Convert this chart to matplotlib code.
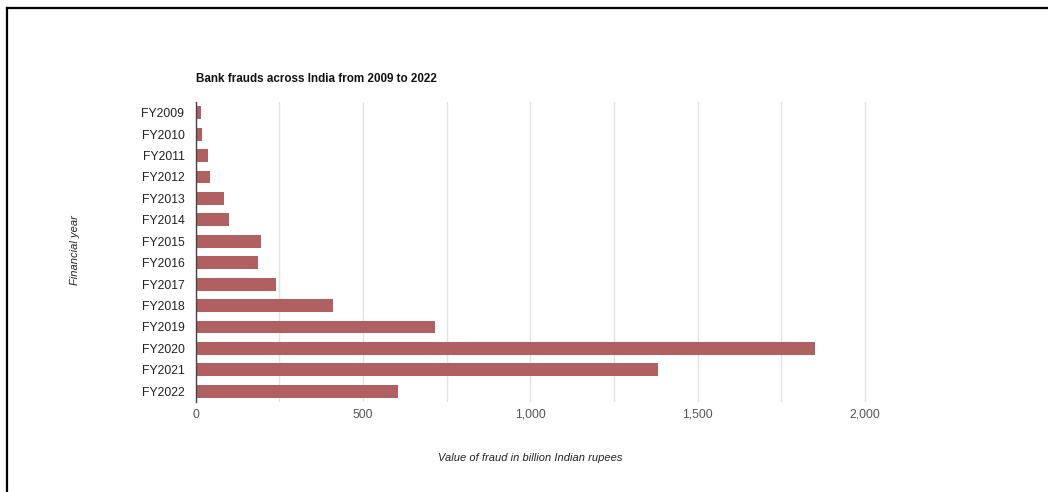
import matplotlib
matplotlib.use("Agg")
import matplotlib.pyplot as plt
from matplotlib.lines import Line2D
from matplotlib.ticker import MultipleLocator, FuncFormatter

plt.rcParams['font.family'] = ['Liberation Sans', 'DejaVu Sans']

years = ["FY2009", "FY2010", "FY2011", "FY2012", "FY2013", "FY2014", "FY2015",
         "FY2016", "FY2017", "FY2018", "FY2019", "FY2020", "FY2021", "FY2022"]
values = [17, 19, 38, 44, 86, 101, 195, 187, 239, 411, 715, 1851, 1383, 605]
title = "Bank frauds across India from 2009 to 2022"
xlabel = "Value of fraud in billion Indian rupees"
ylabel = "Financial year"

W, H = 1048, 492
fig = plt.figure(figsize=(W / 100, H / 100), dpi=100)
fig.patch.set_facecolor("white")

ax = fig.add_axes([195.6 / W, 1 - 402 / H, (867 - 195.6) / W, 300 / H])
ypos = list(range(len(years)))
ax.barh(ypos, values, height=0.6, color="#b06060", zorder=3)
ax.set_ylim(len(years) - 0.5, -0.5)
ax.set_xlim(0, 2006)
ax.set_yticks(ypos)
ax.set_yticklabels(years, fontsize=8.8, color="#222222")
ax.xaxis.set_major_locator(MultipleLocator(500))
ax.xaxis.set_minor_locator(MultipleLocator(250))
ax.xaxis.set_major_formatter(FuncFormatter(lambda v, p: f"{int(v):,}"))
ax.tick_params(axis="x", length=0, which="both", labelsize=8.7, labelcolor="#555555", pad=5)
ax.tick_params(axis="y", length=0, pad=8)
ax.grid(axis="x", which="both", color="#e2e2e2", linewidth=1.0, zorder=0)
for s in ["top", "right", "bottom"]:
    ax.spines[s].set_visible(False)
ax.spines["left"].set_color("#444444")
ax.spines["left"].set_linewidth(1.0)
ax.spines["left"].set_zorder(4)

fig.text(196 / W, 1 - 79 / H, title, fontsize=8.4, fontweight="bold",
         ha="left", va="center", color="#111111")
fig.text(530 / W, 1 - 458 / H, xlabel, fontsize=8, style="italic",
         ha="center", va="center", color="#222222")
fig.text(75 / W, 1 - 250 / H, ylabel, fontsize=8, style="italic", rotation=90,
         ha="center", va="center", color="#222222")

# page border (top and left)
fig.add_artist(Line2D([7 / W, 1], [1 - 7.5 / H, 1 - 7.5 / H], color="black",
                      linewidth=1.6, transform=fig.transFigure))
fig.add_artist(Line2D([7 / W, 7 / W], [0, 1 - 7.5 / H], color="black",
                      linewidth=1.6, transform=fig.transFigure))

fig.savefig("out.png", dpi=100)
